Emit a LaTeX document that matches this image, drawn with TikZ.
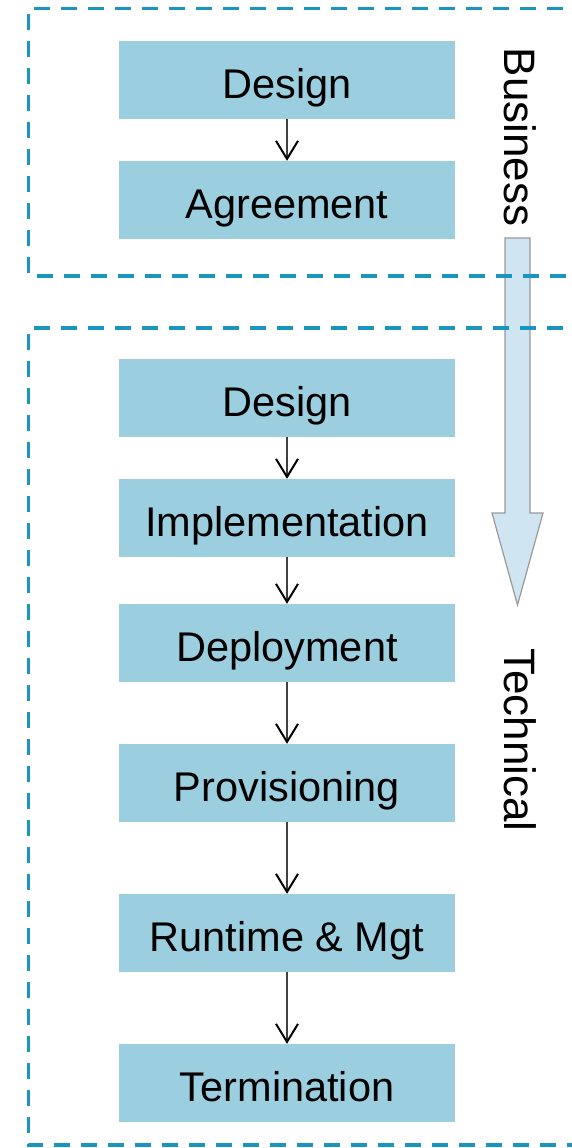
\documentclass[tikz,border=0pt]{standalone}
\usepackage{fontspec}
\setmainfont{Liberation Sans}
\usetikzlibrary{arrows.meta}
\definecolor{boxblue}{HTML}{9BCFDF}
\definecolor{dashblue}{HTML}{1A95C0}
\definecolor{bigarrow}{HTML}{CFE6F2}
\begin{document}
\begin{tikzpicture}[x=1pt,y=-1pt,
  stagebox/.style={fill=boxblue, minimum width=336pt, minimum height=78pt, inner sep=0pt, text height=37pt, text depth=0pt, font=\fontsize{41.5}{48}\selectfont, text=black},
  flowarrow/.style={draw=black!75, line width=1.4pt, -{Straight Barb[length=18pt,width=22pt,line width=2pt,black]}},
  groupline/.style={draw=dashblue, line width=3.4pt, dash pattern=on 16pt off 11pt},
  sidelabel/.style={font=\fontsize{44}{50}\selectfont, rotate=-90, inner sep=0pt}]
\useasboundingbox (0,0) rectangle (572,1148);
\clip (0,0) rectangle (572,1148);
% big arrow
\draw[fill=bigarrow, draw=black!40, line width=1.2pt]
  (505,238) -- (530,238) -- (530,513) -- (543,513) -- (517.5,605) -- (492,513) -- (505,513) -- cycle;
% group frames
\draw[groupline] (590,8.5) -- (28.5,8.5) -- (28.5,276) -- (590,276);
\draw[groupline] (590,328) -- (28.5,328) -- (28.5,1145) -- (590,1145);
% labels
\node[sidelabel] (business) at (520,137) {Business};
\node[sidelabel] (technical) at (520,740) {Technical};
% stages
\node[stagebox] (bdesign) at (287,80) {Design};
\node[stagebox] (agree) at (287,200) {Agreement};
\node[stagebox] (tdesign) at (287,398) {Design};
\node[stagebox] (impl) at (287,518) {Implementation};
\node[stagebox] (deploy) at (287,643) {Deployment};
\node[stagebox] (prov) at (287,783) {Provisioning};
\node[stagebox] (run) at (287,933) {Runtime \& Mgt};
\node[stagebox] (term) at (287,1083) {Termination};
\draw[flowarrow] (bdesign) -- (agree);
\draw[flowarrow] (tdesign) -- (impl);
\draw[flowarrow] (impl) -- (deploy);
\draw[flowarrow] (deploy) -- (prov);
\draw[flowarrow] (prov) -- (run);
\draw[flowarrow] (run) -- (term);
\end{tikzpicture}
\end{document}
